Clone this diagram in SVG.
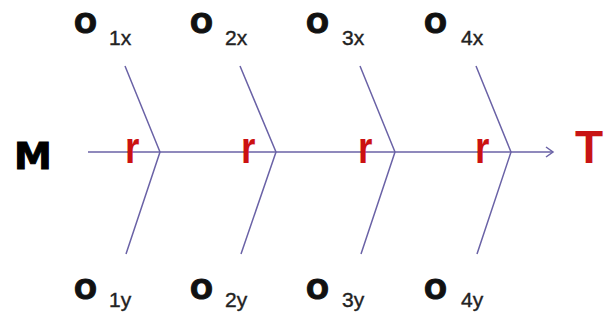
<svg xmlns="http://www.w3.org/2000/svg" width="607" height="320" viewBox="0 0 607 320">
<defs>
<style>
.o{font-family:"DejaVu Sans",sans-serif;font-weight:bold;font-size:27px;fill:#111;stroke:#111;stroke-width:1}
.s{font-family:"Liberation Sans",Arial,sans-serif;font-size:21px;fill:#222;stroke:#222;stroke-width:0.4}
.r{font-family:"Liberation Sans",Arial,sans-serif;font-weight:bold;font-size:37px;fill:#cc1111}
.ln{stroke:#6a62a6;stroke-width:1.5;fill:none}
</style>
<marker id="arr" markerWidth="12" markerHeight="12" refX="9" refY="6" orient="auto" markerUnits="userSpaceOnUse">
<path d="M2,1 L9,6 L2,11" fill="none" stroke="#6a62a6" stroke-width="1.5"/>
</marker>
</defs>
<rect width="607" height="320" fill="#fff"/>
<g id="connectors">
<line class="ln" x1="88" y1="152" x2="553" y2="152" marker-end="url(#arr)"/>
<polyline class="ln" points="125,66 160,152 126,254"/>
<polyline class="ln" points="240,66 276,152 241,254"/>
<polyline class="ln" points="360,66 395,152 361,254"/>
<polyline class="ln" points="476,66 511,152 477,254"/>
</g>
<g id="M"><text x="14" y="169" font-family="DejaVu Sans,sans-serif" font-weight="bold" font-size="38" fill="#000" stroke="#000" stroke-width="1">M</text></g>
<g id="T"><text x="575" y="163" font-family="Liberation Sans,Arial,sans-serif" font-weight="bold" font-size="46" fill="#c81414">T</text></g>
<g id="r1"><text class="r" transform="translate(125,163) scale(1,1.2)">r</text></g>
<g id="r2"><text class="r" transform="translate(241,163) scale(1,1.2)">r</text></g>
<g id="r3"><text class="r" transform="translate(358,163) scale(1,1.2)">r</text></g>
<g id="r4"><text class="r" transform="translate(475,163) scale(1,1.2)">r</text></g>
<g id="O1x"><text class="o" x="74" y="33">O</text><text class="s" x="109" y="45">1x</text></g>
<g id="O2x"><text class="o" x="190" y="33">O</text><text class="s" x="225" y="45">2x</text></g>
<g id="O3x"><text class="o" x="306" y="33">O</text><text class="s" x="342" y="45">3x</text></g>
<g id="O4x"><text class="o" x="424" y="33">O</text><text class="s" x="461" y="45">4x</text></g>
<g id="O1y"><text class="o" x="74" y="299">O</text><text class="s" x="109" y="307">1y</text></g>
<g id="O2y"><text class="o" x="190" y="299">O</text><text class="s" x="225" y="307">2y</text></g>
<g id="O3y"><text class="o" x="306" y="299">O</text><text class="s" x="342" y="307">3y</text></g>
<g id="O4y"><text class="o" x="424" y="299">O</text><text class="s" x="461" y="307">4y</text></g>
</svg>
